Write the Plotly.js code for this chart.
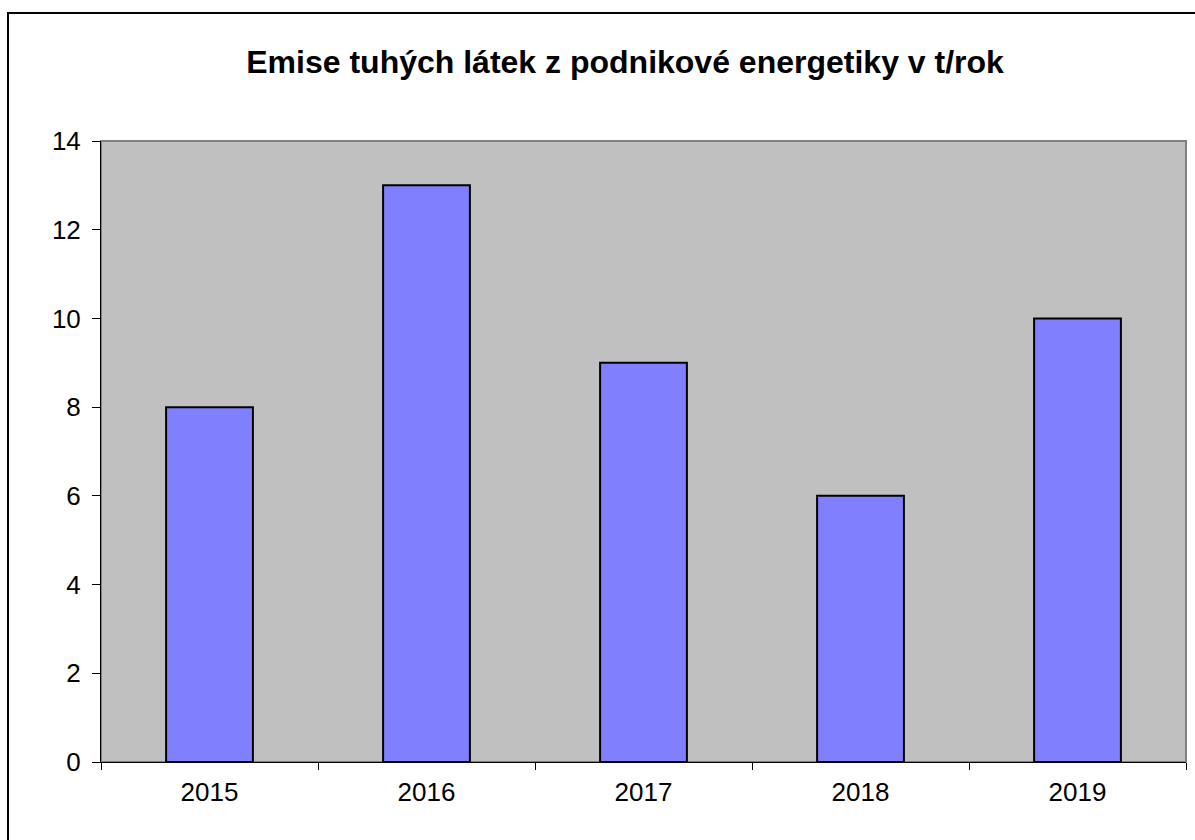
<!DOCTYPE html>
<html><head><meta charset="utf-8">
<script src="https://cdn.plot.ly/plotly-3.0.1.min.js"></script>
<style>
html,body{margin:0;padding:0;background:#fff;overflow:hidden;}
#chart{width:1195px;height:840px;position:absolute;left:0;top:0;}
#frame{position:absolute;left:7px;top:12px;width:1240px;height:900px;border:2px solid #000;pointer-events:none;}
</style></head>
<body>
<div id="chart"></div>
<div id="frame"></div>
<script>
const years = ['2015','2016','2017','2018','2019'];
const emissions = [8, 13, 9, 6, 10];
const yTicks = [0,2,4,6,8,10,12,14];
const titleText = 'Emise tuhých látek z podnikové energetiky v t/rok';

const trace = {
  type: 'bar', x: years, y: emissions,
  marker: {color: '#8080ff', line: {color: '#000', width: 2}},
  hoverinfo: 'x+y'
};
const layout = {
  width: 1195, height: 840,
  margin: {l: 101, r: 9, t: 141, b: 78},
  paper_bgcolor: '#fff', plot_bgcolor: '#c0c0c0',
  bargap: 0.6,
  showlegend: false,
  font: {family: 'Liberation Sans, Arial, sans-serif', color: '#000', size: 26},
  title: {text: '<b>' + titleText + '</b>', font: {size: 32, family: 'Liberation Sans, Arial, sans-serif', color: '#000'},
          x: 0.483, xref: 'paper', xanchor: 'center', y: 0.927, yref: 'container', yanchor: 'middle'},
  xaxis: {type: 'category', showgrid: false, zeroline: false, showline: true, linecolor: '#000', linewidth: 1,
          ticks: 'outside', tickson: 'boundaries', ticklen: 7, tickcolor: '#000', tickwidth: 1,
          tickfont: {size: 26}, ticklabelstandoff: 7},
  yaxis: {range: [0, 14], tickvals: yTicks, showgrid: false, zeroline: false, showline: true, linecolor: '#000', linewidth: 1,
          ticks: 'outside', ticklen: 8, tickcolor: '#000', tickwidth: 1, tickfont: {size: 26}, ticklabelstandoff: 6},
  shapes: [{type: 'rect', xref: 'paper', yref: 'paper', x0: 0, x1: 1, y0: 0, y1: 1,
            line: {color: '#808080', width: 2}, layer: 'below'}]
};
Plotly.newPlot('chart', [trace], layout, {displayModeBar: false, staticPlot: true});
</script>
</body></html>
